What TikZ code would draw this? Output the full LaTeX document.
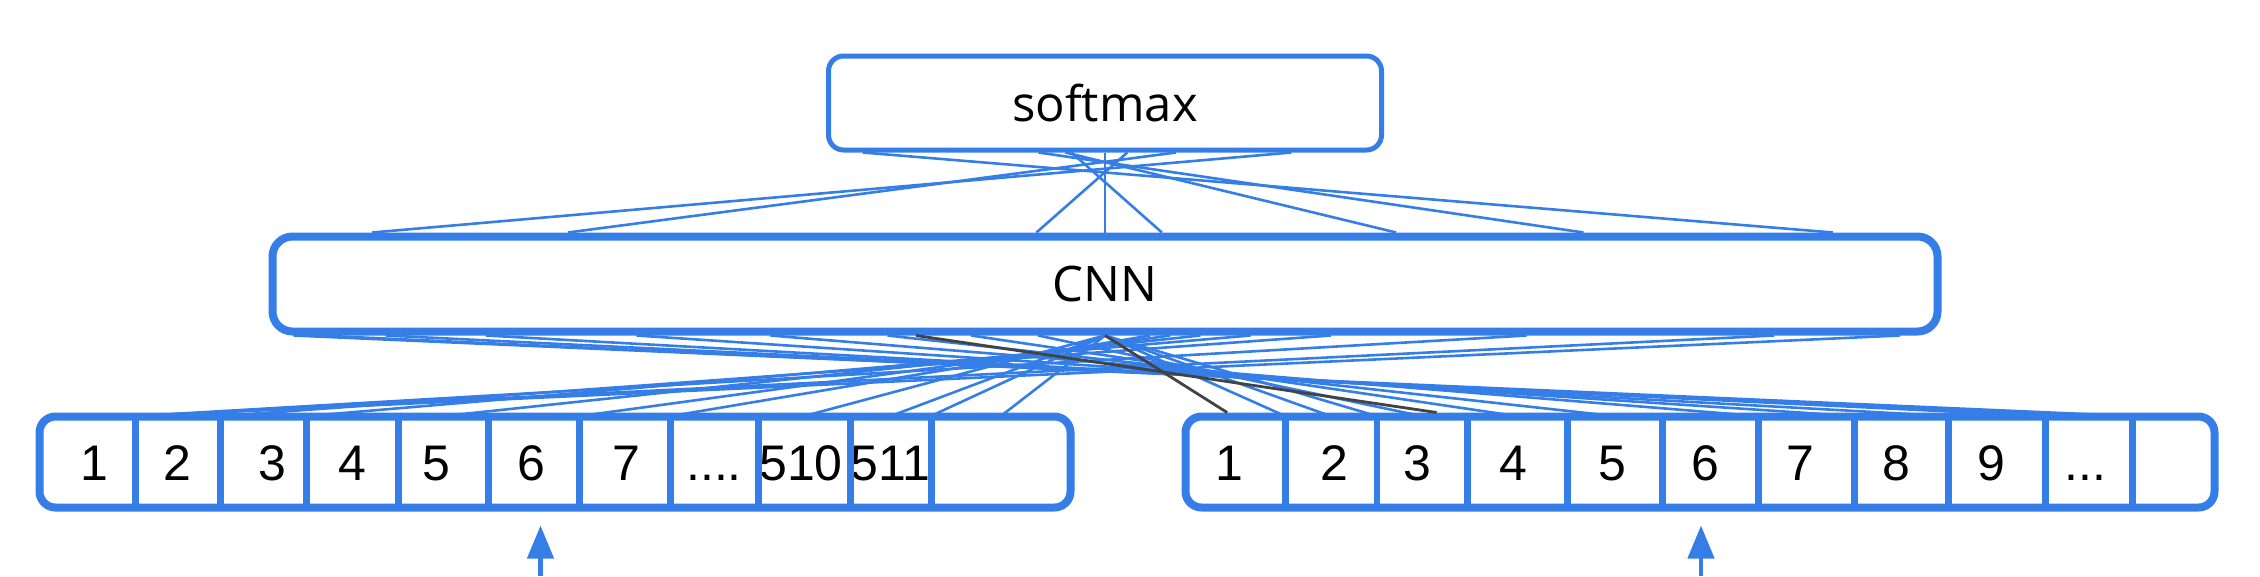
\documentclass[tikz,border=0pt]{standalone}
\usepackage{fontspec}
\setmainfont{Liberation Sans}
\newfontfamily\wordfont{Open Sans}
\usetikzlibrary{arrows.meta,calc,backgrounds}
\definecolor{netblue}{RGB}{53,126,231}
\definecolor{linkgray}{RGB}{67,67,67}
\tikzset{every picture/.style={line width=0.75pt},
	layerbox/.style={draw=netblue, fill=white, rounded corners=16pt, inner sep=0pt},
	wordtext/.style={font=\wordfont\fontsize{49}{59}\selectfont},
	cell/.style={inner sep=0pt, minimum height=91pt, text height=36pt, text depth=0pt, font=\fontsize{50}{60}\selectfont},
	divider/.style={draw=netblue, line width=6.5pt},
	web/.style={draw=netblue, line width=2.6pt},
	grayweb/.style={draw=linkgray, line width=2.8pt},
	inarrow/.style={draw=netblue, line width=4.5pt, shorten >=14pt, -{Triangle[length=33pt,width=26pt]}}
}
\begin{document}
\begin{tikzpicture}[x=1pt,y=1pt,yscale=-1,xscale=1]
		\useasboundingbox (0,0) rectangle (2260,576);
		
		%Rounded Rect softmax
		\node[layerbox, wordtext, line width=5pt, rounded corners=15pt, minimum width=553pt, minimum height=94pt] (soft) at (1105,103) {softmax};
		%Rounded Rect CNN
		\node[layerbox, wordtext, line width=8pt, rounded corners=20pt, minimum width=1665pt, minimum height=95pt] (cnn) at (1105,284) {CNN};
		%Rounded Rect arrays
		\node[layerbox, line width=8pt, minimum width=1031pt, minimum height=91pt] (leftarr) at (555,462) {};
		\node[layerbox, line width=8pt, minimum width=1029pt, minimum height=91pt] (rightarr) at (1700,462) {};
		
		%cells: left, right, label, label shift
		\foreach \a/\b/\t/\d [count=\i] in {39.5/135/1/7, 135/220/2/0, 220/306/3/9, 306/398/4/0, 398/488/5/-7, 488/579/6/-2, 579/670/7/2, 670/758/{....}/0, 758/850/510/-3, 850/931/511/0, 931/1070.5/{}/0}
			\node[cell, minimum width={\b-\a}] (cL\i) at ({(\a+\b)/2},462) {\hspace*{\d pt}\t\hspace*{-\d pt}};
		\foreach \a/\b/\t/\d [count=\i] in {1185.5/1285/1/-6, 1285/1376.5/2/4, 1376.5/1467/3/-4, 1467/1567/4/-4, 1567/1662/5/-2, 1662/1758/6/-5, 1758/1854/7/-6, 1854/1948/8/-5, 1948/2045/9/-5, 2045/2132/{...}/-3, 2132/2214.5/{}/0}
			\node[cell, minimum width={\b-\a}] (cR\i) at ({(\a+\b)/2},462) {\hspace*{\d pt}\t\hspace*{-\d pt}};
		\foreach \i in {1,...,10} {
			\draw[divider] (cL\i.north east) -- (cL\i.south east);
			\draw[divider] (cR\i.north east) -- (cR\i.south east);
		}
		
		\begin{scope}[on background layer]
			%softmax to CNN
			\foreach \s/\c in {.5/.5, .44/.534, .54/.459, .066/.935, .381/.786, .429/.674, .834/.062, .627/.179}
				\draw[web] ($(soft.south west)!\s!(soft.south east)$) -- ($(cnn.north west)!\c!(cnn.north east)$);
			%CNN to left cells
			\foreach \p/\f in {cL1.north east/.975, cL1.north east/.9, cL1.north east/.752, cL2.north east/.635, cL3.north east/.587, cL5.north/.557, cL6.north east/.539, cL7.north east/.527, cL9.north/.5, cL10.north/.5, cL11.north west/.5, cL11.north/.5}
				\draw[web] (\p) -- ($(cnn.south west)!\f!(cnn.south east)$);
			%CNN to right cells
			\foreach \p/\f in {cR1.north east/.5, cR2.north/.5, cR2.north east/.5, cR3.north/.46, cR4.north/.42, cR5.north/.37, cR6.north east/.3, cR7.north east/.22, cR8.north east/.13, cR9.north east/.07, cR10.north/.03, cR10.north east/.015}
				\draw[web] (\p) -- ($(cnn.south west)!\f!(cnn.south east)$);
		\end{scope}
		
		\draw[grayweb] ($(cnn.south west)!.387!(cnn.south east)$) -- ($(rightarr.north west)!.246!(rightarr.north east)$);
		\draw[grayweb] (cnn.south) -- ($(rightarr.north west)!.044!(rightarr.north east)$);
		
		%input arrows
		\coordinate (inL) at (540.5,576);
		\coordinate (inR) at (1701,576);
		\draw[inarrow] (inL) -- (inL |- leftarr.south);
		\draw[inarrow] (inR) -- (inR |- rightarr.south);
		
	\end{tikzpicture}
\end{document}
